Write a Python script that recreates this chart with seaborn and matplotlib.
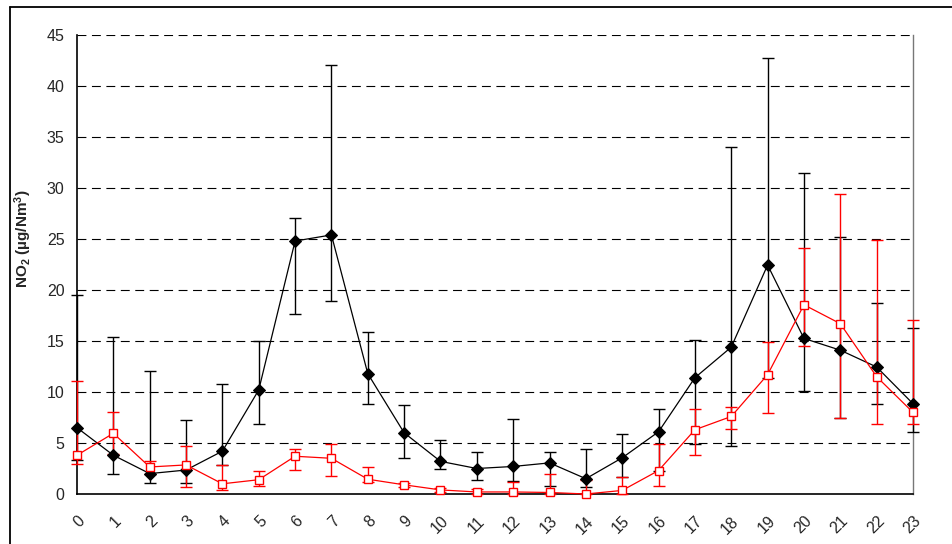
import numpy as np
import pandas as pd
import matplotlib
matplotlib.use("Agg")
import matplotlib.pyplot as plt
import seaborn as sns
from matplotlib.lines import Line2D

hours = list(range(24))

black_mean = [6.5, 3.8, 2.0, 2.35, 4.2, 10.2, 24.8, 25.4, 11.8, 6.0, 3.2, 2.5,
              2.7, 3.05, 1.5, 3.55, 6.1, 11.4, 14.4, 22.45, 15.25, 14.1, 12.45, 8.85]
black_upper = [19.5, 15.4, 12.1, 7.3, 10.8, 15.0, 27.1, 42.1, 15.9, 8.7, 5.3, 4.15,
               7.4, 4.1, 4.45, 5.9, 8.3, 15.1, 34.05, 42.7, 31.5, 25.2, 18.7, 16.3]
black_lower = [3.3, 2.0, 1.1, 1.1, 2.8, 6.9, 17.6, 18.9, 8.8, 3.55, 2.5, 1.4,
               1.3, 0.8, 0.7, 1.7, 2.25, 4.9, 4.7, 11.4, 10.1, 7.5, 8.8, 6.1]

red_mean = [3.8, 5.95, 2.65, 2.85, 1.0, 1.4, 3.7, 3.5, 1.45, 0.9, 0.4, 0.2,
            0.2, 0.15, 0.0, 0.35, 2.3, 6.3, 7.6, 11.7, 18.55, 16.7, 11.5, 8.0]
red_upper = [11.1, 8.0, 3.2, 4.7, 2.8, 2.25, 4.4, 4.9, 2.6, 1.1, 0.6, 0.5,
             1.15, 2.0, 1.4, 1.7, 4.9, 8.3, 8.55, 14.9, 24.15, 29.45, 24.9, 17.05]
red_lower = [2.9, 3.9, 2.0, 0.7, 0.35, 0.8, 2.35, 1.75, 1.2, 0.7, 0.2, 0.0,
             0.0, 0.0, 0.0, 0.0, 0.8, 3.8, 6.4, 7.9, 14.5, 7.5, 6.9, 6.9]

y_ticks = list(range(0, 50, 5))
y_label = "NO$_2$ (\u00b5g/Nm$^3$)"

sns.set_style("white")
plt.rcParams['font.family'] = ['Liberation Sans', 'DejaVu Sans']
plt.rcParams['mathtext.fontset'] = 'custom'
plt.rcParams['mathtext.rm'] = 'Liberation Sans:bold'
plt.rcParams['mathtext.it'] = 'Liberation Sans:bold'
plt.rcParams['mathtext.bf'] = 'Liberation Sans:bold'

fig = plt.figure(figsize=(9.53, 5.44), dpi=100)
ax = fig.add_axes([77/953, 1-494/544, (913-77)/953, (494-35)/544])

df_b = pd.DataFrame({"hour": hours, "val": black_mean})
df_r = pd.DataFrame({"hour": hours, "val": red_mean})

bm = np.array(black_mean); rm = np.array(red_mean)
eb = ax.errorbar(hours, bm, yerr=[bm - np.array(black_lower), np.array(black_upper) - bm],
                 fmt='none', ecolor='black', elinewidth=1.0, capsize=4.5, capthick=1.0, zorder=3)
er = ax.errorbar(hours, rm, yerr=[rm - np.array(red_lower), np.array(red_upper) - rm],
                 fmt='none', ecolor='#ff0000', elinewidth=1.0, capsize=4.5, capthick=1.0, zorder=4)
for c in (eb, er):
    for art in list(c.lines[1]) + list(c.lines[2]):
        art.set_clip_on(False)

sns.lineplot(data=df_b, x="hour", y="val", ax=ax, color='black', lw=0.9,
             marker='D', markersize=6, markerfacecolor='black', markeredgecolor='black',
             clip_on=False, zorder=5)
sns.lineplot(data=df_r, x="hour", y="val", ax=ax, color='#ff0000', lw=0.9,
             marker='s', markersize=6, markerfacecolor='white', markeredgecolor='#ff0000',
             markeredgewidth=1.0, clip_on=False, zorder=6)

ax.set_xlim(0, 23)
ax.set_ylim(0, 45)
ax.set_xticks(hours)
ax.set_xticklabels([str(h) for h in hours], rotation=45, ha='right', va='top',
                   rotation_mode='anchor', fontsize=11.5)
ax.set_yticks(y_ticks)
ax.set_yticklabels([str(v) for v in y_ticks], fontsize=11.5)
ax.tick_params(axis='both', direction='out', length=5, width=1, color='black', pad=4)
ax.tick_params(axis='x', pad=9)
ax.set_xlabel("")
ax.set_ylabel(y_label, fontsize=11, fontweight='bold')
ax.yaxis.set_label_coords(-0.052, 0.557)

for y in y_ticks[1:]:
    ax.axhline(y, color='black', lw=0.8, ls=(0, (8, 5)), zorder=1)

ax.spines['top'].set_visible(False)
ax.spines['left'].set_color('black'); ax.spines['left'].set_linewidth(1.2)
ax.spines['bottom'].set_color('black'); ax.spines['bottom'].set_linewidth(1.2)
ax.spines['right'].set_color('#777777'); ax.spines['right'].set_linewidth(1.0)

fig.add_artist(Line2D([10/953, 10/953], [0, 1-7/544], transform=fig.transFigure,
                      color='black', lw=1.3))
fig.add_artist(Line2D([10/953, 1], [1-7/544, 1-7/544], transform=fig.transFigure,
                      color='black', lw=1.3))

fig.savefig("out.png", dpi=100)
